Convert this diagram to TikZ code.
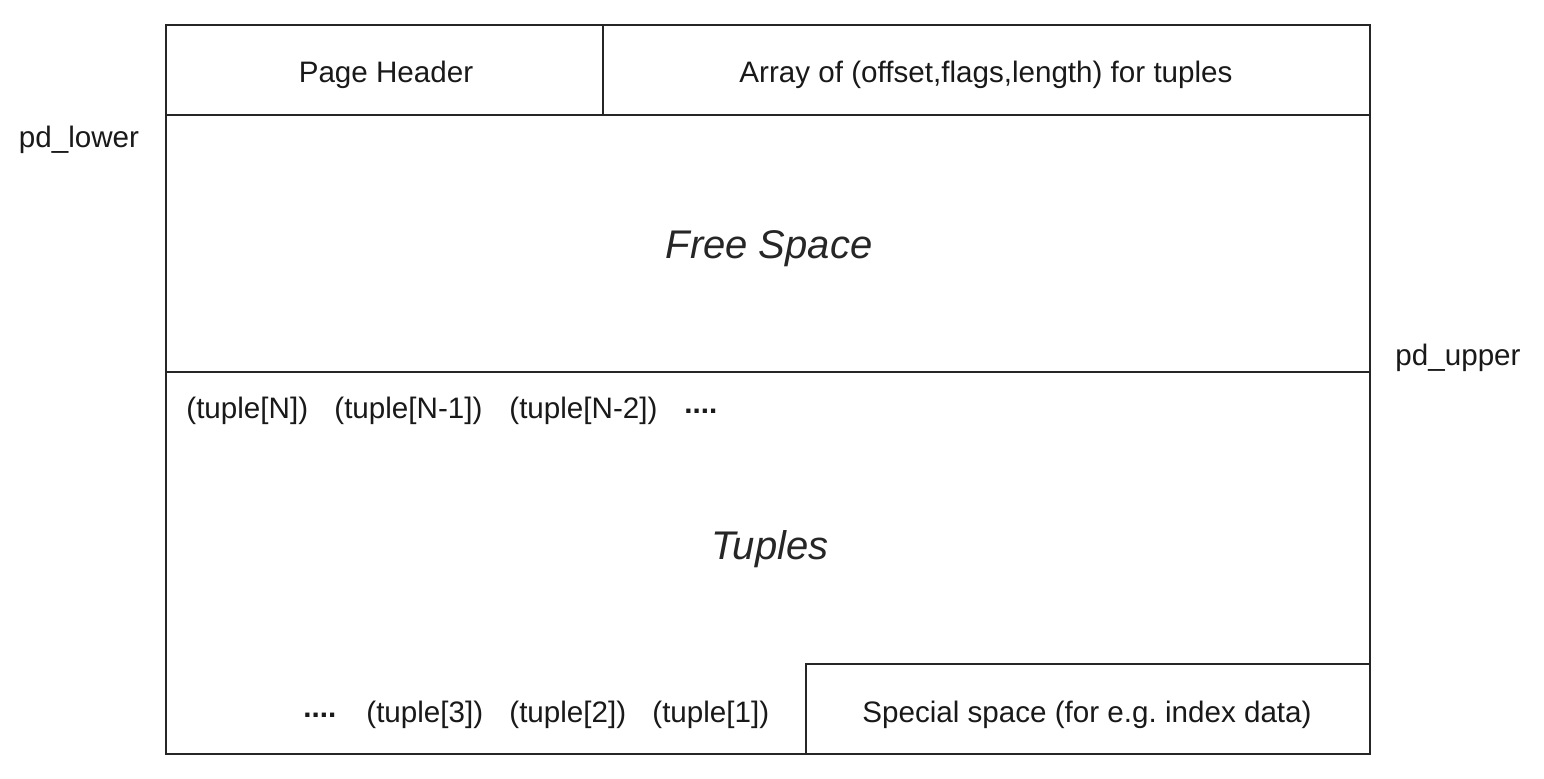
\documentclass[tikz,border=0pt]{standalone}
\usepackage{fontspec}
\setmainfont{Liberation Sans}
\frenchspacing
\begin{document}
\begin{tikzpicture}[x=0.5pt,y=-0.5pt,
  frame/.style={draw=black!85, line width=1.2pt},
  lbl/.style={font=\fontsize{14.8}{17}\selectfont, text=black!90, inner sep=0pt},
  big/.style={font=\fontsize{20}{24}\selectfont\itshape, text=black!85, inner sep=0pt}]
  \useasboundingbox (0,0) rectangle (1544,778);
  % page layout blocks
  \draw[frame] (166,25) rectangle (603,115);
  \draw[frame] (603,25) rectangle (1370,115);
  \draw[frame] (166,115) rectangle (1370,372);
  \draw[frame] (166,372) rectangle (1370,754);
  \draw[frame, fill=white] (806,664) rectangle (1370,754);
  % block labels
  \node[lbl] (hdr) at (386,75) {Page Header};
  \node[lbl] (arr) at (986,75) {Array of (offset,flags,length) for tuples};
  \node[big] (free) at (769,249) {Free Space};
  \node[big] (tup) at (770,549) {Tuples};
  \node[lbl] (spec) at (1087,715) {Special space (for e.g. index data)};
  % pointer labels
  \node[lbl] (lower) at (79,140) {pd\_lower};
  \node[lbl] (upper) at (1458,358) {pd\_upper};
  % tuple rows
  \node[lbl, anchor=west] (tN) at (186,411) {(tuple[N])};
  \node[lbl, anchor=west] (tN1) at (334,411) {(tuple[N-1])};
  \node[lbl, anchor=west] (tN2) at (509,411) {(tuple[N-2])};
  \node[lbl, anchor=west] (dotsA) at (684,411) {\bfseries ....};
  \node[lbl, anchor=west] (dotsB) at (303,715) {\bfseries ....};
  \node[lbl, anchor=west] (t3) at (366,715) {(tuple[3])};
  \node[lbl, anchor=west] (t2) at (509,715) {(tuple[2])};
  \node[lbl, anchor=west] (t1) at (652,715) {(tuple[1])};
\end{tikzpicture}
\end{document}
